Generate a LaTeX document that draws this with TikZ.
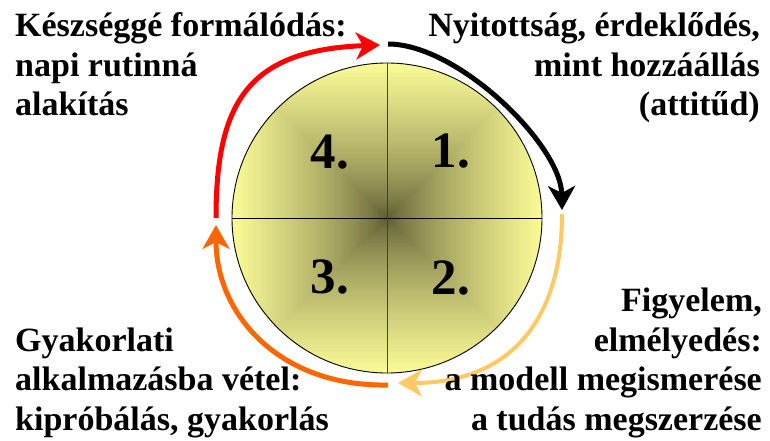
\documentclass[tikz,border=0pt]{standalone}
\usepackage{fontspec}
\setmainfont{Liberation Serif}
\usetikzlibrary{arrows.meta}
\definecolor{ballY}{HTML}{FAFA96}
\definecolor{ballD}{HTML}{57552F}
\definecolor{arcB}{HTML}{FFC966}
\definecolor{arcC}{HTML}{FF6600}
\definecolor{arcD}{HTML}{FF0000}
\begin{document}
\begin{tikzpicture}[x=1pt,y=-1pt,
  lbl/.style={font=\fontsize{34}{39.5}\selectfont\bfseries, inner sep=0pt},
  num/.style={font=\fontsize{51}{60}\selectfont\bfseries, inner sep=0pt, anchor=base},
  cyc/.style={line width=5pt, -{Stealth[length=24pt,width=27pt,inset=7pt]}},
]
\useasboundingbox (0,0) rectangle (770,441);
\node[circle, minimum size=310pt, inner sep=0pt] (c) at (387,218) {};
\begin{scope}
  \clip (c.center) circle[radius=155];
  \foreach \i in {0,...,90}{
    \pgfmathsetmacro\s{155*(1-\i/90)}
    \pgfmathsetmacro\p{100*(max(1-\i/90,0.0001))^0.7}
    \colorlet{tmpc}{ballY!\p!ballD}
    \fill[tmpc] (387-\s,218-\s) rectangle (387+\s,218+\s);
  }
\end{scope}
\draw[line width=0.9pt] (c.center) circle[radius=155];
\draw[line width=1pt] (c.west) -- (c.east);
\draw[line width=1pt, black!75] (c.north) -- (c.south);

\node[num] (n4) at (330,168) {4.};
\node[num] (n1) at (451,167) {1.};
\node[num] (n3) at (330,293) {3.};
\node[num] (n2) at (451,294) {2.};

\coordinate (a1s) at (388,44);  \coordinate (a1e) at (562,210);
\coordinate (a2s) at (562,214); \coordinate (a2e) at (398,383);
\coordinate (a3s) at (388,385); \coordinate (a3e) at (216,225);
\coordinate (a4s) at (216,218); \coordinate (a4e) at (380,45);
\draw[cyc, black] (a1s) .. controls (458,44) and (561,145) .. (a1e);
\draw[cyc, arcB, line width=4pt] (a2s) .. controls (562,320) and (510,383) .. (a2e);
\draw[cyc, arcC] (a3s) .. controls (280,387) and (216,315) .. (a3e);
\draw[cyc, arcD] (a4s) .. controls (216,100) and (250,50) .. (a4e);

\node[lbl, anchor=base west, align=left] (tl) at (15,116) {Készséggé formálódás:\\napi rutinná\\alakítás};
\node[lbl, anchor=base east, align=right] (tr) at (760,116) {Nyitottság, érdeklődés,\\mint hozzáállás\\(attitűd)};
\node[lbl, anchor=base west, align=left] (bl) at (15,430) {Gyakorlati\\alkalmazásba vétel:\\kipróbálás, gyakorlás};
\node[lbl, anchor=base east, align=right] (br) at (762,430) {Figyelem,\\elmélyedés:\\a modell megismerése\\a tudás megszerzése};
\end{tikzpicture}
\end{document}
